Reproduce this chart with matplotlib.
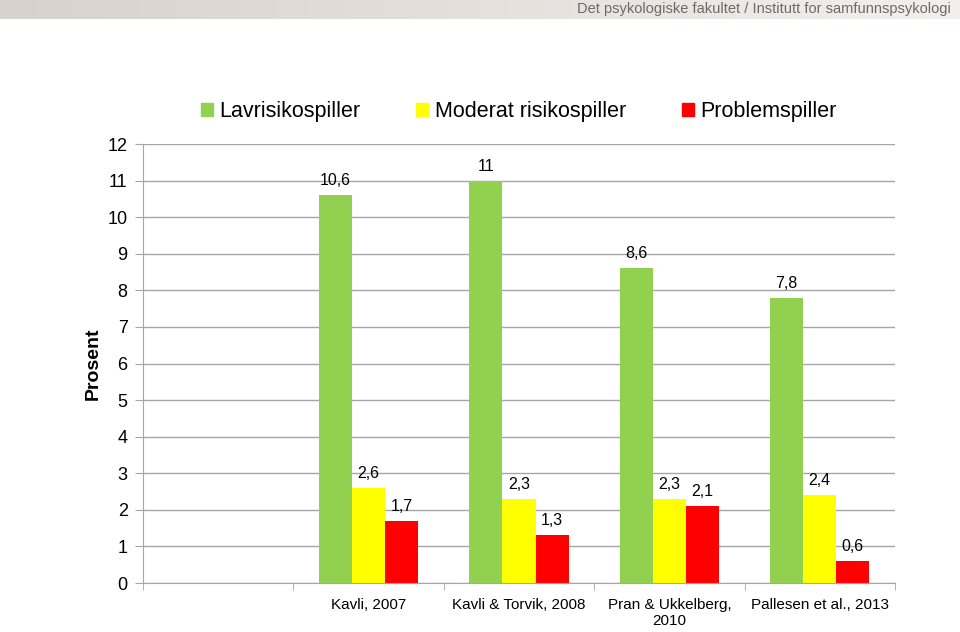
import matplotlib.pyplot as plt
import matplotlib.patches as mpatches
import numpy as np

# chart values
studies = ["", "Kavli, 2007", "Kavli & Torvik, 2008", "Pran & Ukkelberg,\n2010", "Pallesen et al., 2013"]
lav = [None, 10.6, 11, 8.6, 7.8]
moderat = [None, 2.6, 2.3, 2.3, 2.4]
problem = [None, 1.7, 1.3, 2.1, 0.6]
series_names = ["Lavrisikospiller", "Moderat risikospiller", "Problemspiller"]
colors = ["#92D050", "#FFFF00", "#FF0000"]
yticks = list(range(0, 13))
header = "Det psykologiske fakultet / Institutt for samfunnspsykologi"

plt.rcParams['font.family'] = ['Liberation Sans', 'DejaVu Sans']

fig = plt.figure(figsize=(9.6, 6.32), dpi=100)

# header band with gradient
hax = fig.add_axes([0, 1 - 19 / 632, 1, 19 / 632])
c0 = np.array([0xd8, 0xd2, 0xce]) / 255
c1 = np.array([0xf4, 0xee, 0xec]) / 255
t = np.linspace(0, 1, 256)[None, :, None]
grad = c0 + (c1 - c0) * t
hax.imshow(grad, aspect='auto', extent=[0, 1, 0, 1])
hax.set_axis_off()
hax.text(0.99, 0.5, header, ha='right', va='center', fontsize=10.5, color="#6b6b6b",
         family=['Liberation Sans Narrow', 'Liberation Sans'], transform=hax.transAxes)

ax = fig.add_axes([143 / 960, 49 / 632, 752 / 960, 439 / 632])
x = np.arange(len(studies))
w = 0.22
all_series = [lav, moderat, problem]
for i, (vals, col, name) in enumerate(zip(all_series, colors, series_names)):
    xs = [xi + (i - 1) * w for xi, v in zip(x, vals) if v is not None]
    vs = [v for v in vals if v is not None]
    bars = ax.bar(xs, vs, width=w, color=col, label=name, zorder=2)
    for b, v in zip(bars, vs):
        lbl = f"{v:g}".replace(".", ",")
        ax.annotate(lbl, (b.get_x() + b.get_width() / 2, v), xytext=(0, 5),
                    textcoords='offset points', ha='center', va='bottom', fontsize=11.5)

ax.set_xlim(-0.5, len(studies) - 0.5)
ax.set_ylim(0, 12)
ax.set_yticks(yticks)
ax.yaxis.grid(True, color="#a6a6a6", linewidth=1, zorder=0)
ax.set_axisbelow(True)
for s in ['top', 'right']:
    ax.spines[s].set_visible(False)
for s in ['left', 'bottom']:
    ax.spines[s].set_color("#a6a6a6")
ax.tick_params(axis='y', length=6, color="#a6a6a6", labelsize=13, pad=5)
ax.set_xticks(x)
ax.set_xticklabels(studies, fontsize=11)
ax.tick_params(axis='x', which='major', length=0, pad=11)
ax.set_xticks(np.arange(-0.5, len(studies)), minor=True)
ax.tick_params(axis='x', which='minor', length=5, color="#a6a6a6")

ax.set_ylabel("Prosent", fontsize=14, fontweight='bold', labelpad=4)

handles = [mpatches.Patch(color=c) for c in colors]
fig.legend(handles, series_names, loc='center left', bbox_to_anchor=(201 / 960, 1 - 112 / 632),
           ncol=3, frameon=False, fontsize=15.5, handlelength=0.55, handleheight=0.55,
           handletextpad=0.3, columnspacing=2.6, borderpad=0, borderaxespad=0)

fig.savefig("out.png", dpi=100)
